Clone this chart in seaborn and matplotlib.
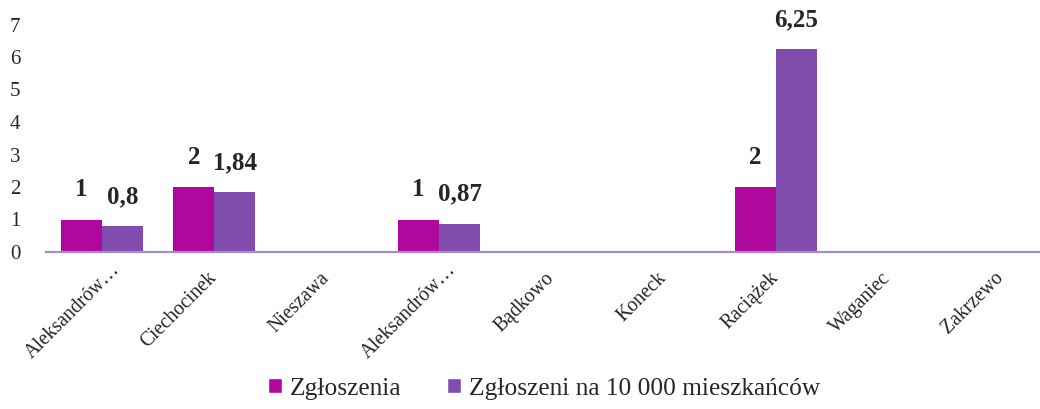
import matplotlib
matplotlib.use("Agg")
import matplotlib.pyplot as plt
import matplotlib.transforms as mtransforms
from matplotlib.patches import Patch
import seaborn as sns
import pandas as pd

# dane
gminy = ["Aleksandrów…", "Ciechocinek", "Nieszawa", "Aleksandrów…", "Bądkowo",
         "Koneck", "Raciążek", "Waganiec", "Zakrzewo"]
zgloszenia = [1, 2, 0, 1, 0, 0, 2, 0, 0]
na_10000 = [0.8, 1.84, 0, 0.87, 0, 0, 6.25, 0, 0]
serie = ["Zgłoszenia", "Zgłoszeni na 10 000 mieszkańców"]
kolory = ["#B0089C", "#804CAE"]

rows = []
for i, g in enumerate(gminy):
    rows.append({"poz": i, "seria": serie[0], "wartosc": zgloszenia[i]})
    rows.append({"poz": i, "seria": serie[1], "wartosc": na_10000[i]})
df = pd.DataFrame(rows)

sns.set_style("white")
plt.rcParams["font.family"] = ["Liberation Serif", "DejaVu Serif"]

fig = plt.figure(figsize=(10.4, 4.09), dpi=100)
ax = fig.add_axes([46 / 1040, (409 - 252) / 409, (1040 - 46) / 1040, 227.5 / 409])

sns.barplot(data=df, x="poz", y="wartosc", hue="seria", palette=kolory,
            width=0.73, ax=ax, legend=False, saturation=1, linewidth=0)

ax.set_xlim(-0.5, -0.5 + 994 / 112.3)
ax.set_ylim(0, 7)
ax.set_yticks(range(8))
ax.set_yticklabels([str(v) for v in range(8)], fontsize=15, ha="left")
ax.tick_params(axis="y", length=0, pad=26)
ax.set_xticks(range(len(gminy)))
ax.set_xticklabels(gminy, fontsize=14.2, rotation=45, ha="right", rotation_mode="anchor")
ax.tick_params(axis="x", length=0, pad=12)
# etykiety osi X lekko w lewo (skrócone nazwy trochę w prawo/w górę, jak w Excelu)
for lbl in ax.get_xticklabels():
    if lbl.get_text().endswith("…"):
        dx, dy = 8, 8
    else:
        dx, dy = -7, 0
    lbl.set_transform(lbl.get_transform() +
                      mtransforms.ScaledTranslation(dx / 100, dy / 100, fig.dpi_scale_trans))

ax.set_xlabel("")
ax.set_ylabel("")
for s in ["top", "right", "left"]:
    ax.spines[s].set_visible(False)
ax.spines["bottom"].set_color("#A88BCB")
ax.spines["bottom"].set_linewidth(1.6)

# etykiety danych
for cont in ax.containers:
    labels = []
    for bar in cont:
        h = bar.get_height()
        labels.append("" if h == 0 else f"{h:g}".replace(".", ","))
    ax.bar_label(cont, labels=labels, padding=13, fontsize=18, fontweight="bold")

handles = [Patch(facecolor=c, label=s) for c, s in zip(kolory, serie)]
fig.legend(handles=handles, loc="center", bbox_to_anchor=(0.523, 0.05), ncol=2,
           frameon=False, fontsize=18.3, handlelength=0.55, handleheight=0.55,
           handletextpad=0.3, columnspacing=1.8)

fig.savefig("out.png", dpi=100)
